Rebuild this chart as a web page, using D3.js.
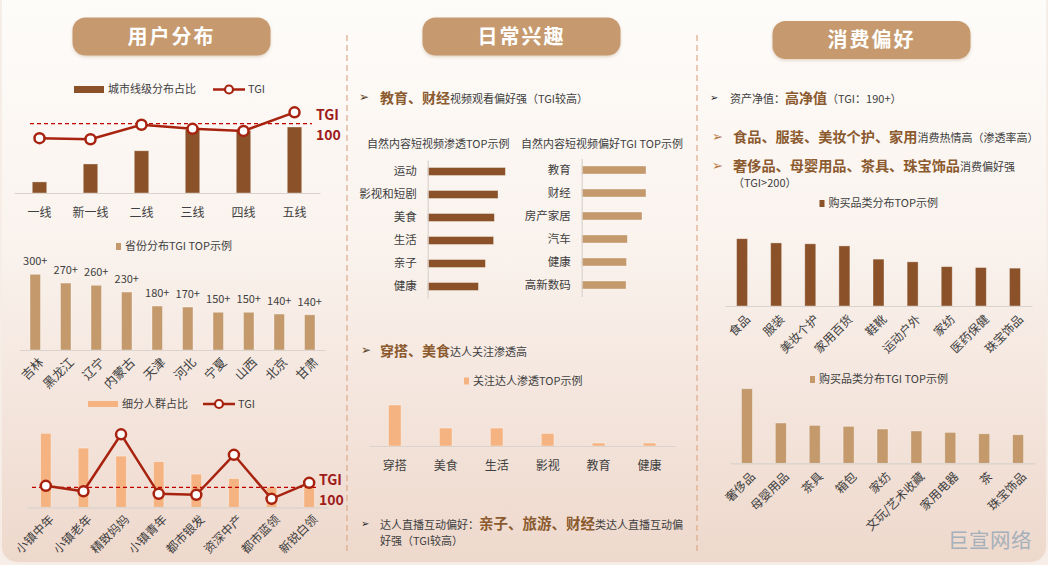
<!DOCTYPE html>
<html><head><meta charset="utf-8">
<script src="https://cdn.jsdelivr.net/npm/d3@7"></script>
<style>body{margin:0;background:#fff}svg{display:block}</style>
</head><body><svg id="c" width="1048" height="565"></svg>
<script>
// ---------- DATA ----------
const sectionTitles = ["用户分布","日常兴趣","消费偏好"];
const cityTiers = ["一线","新一线","二线","三线","四线","五线"];
const cityShare = [4.2, 11.0, 16.0, 24.0, 23.6, 25.0];
const cityTGI = [86, 85, 99, 95, 93, 111];
const provinces = ["吉林","黑龙江","辽宁","内蒙古","天津","河北","宁夏","山西","北京","甘肃"];
const provinceTGI = [303, 268, 259, 232, 176, 172, 151, 151, 144, 141];
const provinceLabels = ["300+","270+","260+","230+","180+","170+","150+","150+","140+","140+"];
const segments = ["小镇中年","小镇老年","精致妈妈","小镇青年","都市银发","资深中产","都市蓝领","新锐白领"];
const segmentShare = [18.5, 14.8, 12.8, 11.4, 8.3, 7.2, 5.0, 5.2];
const segmentTGI = [103, 92, 206, 87, 85, 165, 77, 109];
const videoPenCats = ["运动","影视和短剧","美食","生活","亲子","健康"];
const videoPenVals = [38.9, 35.2, 33.4, 33.0, 28.9, 25.4];
const videoTGICats = ["教育","财经","房产家居","汽车","健康","高新数码"];
const videoTGIVals = [145, 145, 136, 103, 101, 100];
const kolCats = ["穿搭","美食","生活","影视","教育","健康"];
const kolVals = [13.7, 6.0, 6.0, 4.2, 1.0, 1.0];
const buyCats = ["食品","服装","美妆个护","家用百货","鞋靴","运动户外","家纺","医药保健","珠宝饰品"];
const buyVals = [22.4, 21.0, 20.7, 20.0, 15.6, 14.7, 13.1, 12.8, 12.6];
const buyTGICats = ["奢侈品","母婴用品","茶具","箱包","家纺","文玩/艺术收藏","家用电器","茶","珠宝饰品"];
const buyTGIVals = [533, 288, 271, 264, 245, 231, 221, 211, 204];

// ---------- STYLE ----------
const FONT = '"Noto Sans CJK SC","Noto Sans",sans-serif';
const C_DARK = "#8b5229", C_TAN = "#c4996c", C_PEACH = "#f5b382";
const C_LINE = "#a8230f", C_DASH = "#c00000", C_TGI = "#9e1b1b";
const C_TEXT = "#404040", C_BOLD = "#8b5a2e";

const svg = d3.select("#c").attr("font-family", FONT);
const defs = svg.append("defs");
const gr = defs.append("linearGradient").attr("id","bg").attr("x1",0).attr("y1",0).attr("x2",0).attr("y2",1);
gr.append("stop").attr("offset","0%").attr("stop-color","#fefdfb");
gr.append("stop").attr("offset","45%").attr("stop-color","#faf3ee");
gr.append("stop").attr("offset","100%").attr("stop-color","#eed8cc");
const sh = defs.append("filter").attr("id","sh").attr("x","-10%").attr("y","-20%").attr("width","120%").attr("height","150%");
sh.append("feDropShadow").attr("dx",0).attr("dy",1.5).attr("stdDeviation",1.5).attr("flood-color","#8b5a2e").attr("flood-opacity",0.25);

svg.append("rect").attr("width",1048).attr("height",565).attr("fill","#f7eee9");
svg.append("rect").attr("x",1).attr("y",-30).attr("width",1046).attr("height",593).attr("rx",16)
  .attr("fill","url(#bg)").attr("stroke","#f7ede7").attr("stroke-width",2);

// dividers
[347, 697].forEach(x => svg.append("line").attr("x1",x).attr("x2",x).attr("y1",35).attr("y2",552)
  .attr("stroke","#dcaa8c").attr("stroke-width",1.2).attr("stroke-dasharray","6,4"));

// header pills
const pills = [{x:72.5,y:17.5},{x:422.5,y:17.5},{x:772.5,y:21}];
pills.forEach((p,i) => {
  svg.append("rect").attr("x",p.x).attr("y",p.y).attr("width",198).attr("height",38).attr("rx",13)
    .attr("fill","#c69a6e").attr("filter","url(#sh)");
  svg.append("text").attr("x",p.x+99).attr("y",p.y+19).attr("dy","0.36em").attr("text-anchor","middle")
    .attr("fill","#fff").attr("font-size",20).attr("font-weight","bold").attr("letter-spacing",2)
    .text(sectionTitles[i]);
});

// ---------- HELPERS ----------
function vbar(c){
  const g = svg.append("g");
  const x = d3.scaleBand().domain(c.cats).range([c.x0, c.x1]);
  const y = d3.scaleLinear().domain([0, d3.max(c.vals)]).range([c.base, c.base - c.maxH]);
  g.selectAll("rect").data(c.vals).join("rect")
    .attr("x",(d,i)=>x(c.cats[i]) + x.bandwidth()/2 - c.bw/2).attr("width", c.bw)
    .attr("y", d=>y(d)).attr("height", d=>c.base - y(d)).attr("fill", c.color)
    .attr("stroke","rgba(255,255,255,0.45)").attr("stroke-width",0.8);
  const ax = g.append("g").attr("transform",`translate(0,${c.base})`)
    .call(d3.axisBottom(x).tickSize(0).tickSizeOuter(0).tickPadding(c.pad || 15));
  ax.attr("font-family", FONT);
  ax.select(".domain").attr("stroke","#d9d2cd").attr("stroke-width",1.2);
  const t = ax.selectAll("text").attr("font-size", c.fs || 12).attr("fill", C_TEXT);
  if (c.rot) t.attr("y",0).attr("dy","0.35em").attr("text-anchor","end")
      .attr("transform",`translate(${c.rdx||5},${c.rdy||11}) rotate(-45)`);
  return {x, y, g};
}
function tgiLine(x, cats, vals, yS, dashY, dashX0, dashX1, labX, labY){
  svg.append("line").attr("x1",dashX0).attr("x2",dashX1).attr("y1",dashY).attr("y2",dashY)
    .attr("stroke",C_DASH).attr("stroke-width",1.3).attr("stroke-dasharray","4,3");
  const pts = vals.map((v,i)=>[x(cats[i]) + x.bandwidth()/2, yS(v)]);
  svg.append("path").attr("d", d3.line()(pts)).attr("fill","none").attr("stroke",C_LINE).attr("stroke-width",2.5);
  svg.selectAll(null).data(pts).join("circle").attr("cx",d=>d[0]).attr("cy",d=>d[1]).attr("r",5)
    .attr("fill","#fff").attr("stroke",C_LINE).attr("stroke-width",2.5);
  svg.append("text").attr("x",labX).attr("y",labY).attr("fill",C_TGI).attr("font-size",14).attr("font-weight","bold").text("TGI");
  svg.append("text").attr("x",labX).attr("y",labY+20).attr("fill",C_TGI).attr("font-size",14).attr("font-weight","bold").text("100");
}
function legendRect(x, y, w, h, color, label){
  svg.append("rect").attr("x",x).attr("y",y-h/2).attr("width",w).attr("height",h).attr("fill",color);
  svg.append("text").attr("x",x+w+4).attr("y",y).attr("dy","0.35em").attr("font-size",11).attr("fill",C_TEXT).text(label);
}
function legendLine(x, y, label){
  svg.append("line").attr("x1",x).attr("x2",x+32).attr("y1",y).attr("y2",y).attr("stroke",C_LINE).attr("stroke-width",2.5);
  svg.append("circle").attr("cx",x+16).attr("cy",y).attr("r",4).attr("fill","#fff").attr("stroke",C_LINE).attr("stroke-width",2.2);
  svg.append("text").attr("x",x+35).attr("y",y).attr("dy","0.35em").attr("font-size",11).attr("fill",C_TEXT).text(label);
}
function rich(x, y, parts){
  const t = svg.append("text").attr("x",x).attr("y",y).attr("dy","0.36em");
  parts.forEach(p => t.append("tspan").attr("font-size",p.s).attr("font-weight",p.b?"bold":"normal")
    .attr("fill",p.c || C_TEXT).text(p.t));
  return t;
}
function arrow(x, y, size, color){
  svg.append("text").attr("x",x).attr("y",y).attr("dy","0.36em").attr("font-size",size)
    .attr("font-family",'"DejaVu Sans",sans-serif').attr("fill",color).text("➢");
}
function hbar(c){
  const g = svg.append("g");
  const y = d3.scaleBand().domain(c.cats).range([c.y0, c.y1]);
  const x = d3.scaleLinear().domain([0, d3.max(c.vals)]).range([c.ax, c.ax + c.maxL]);
  g.selectAll("rect").data(c.vals).join("rect")
    .attr("x", c.ax).attr("y",(d,i)=>y(c.cats[i]) + y.bandwidth()/2 - 4).attr("height",8)
    .attr("width", d=>x(d) - c.ax).attr("fill", c.color)
    .attr("stroke","rgba(255,255,255,0.45)").attr("stroke-width",0.8);
  const a = g.append("g").attr("transform",`translate(${c.ax},0)`)
    .call(d3.axisLeft(y).tickSize(0).tickSizeOuter(0).tickPadding(11));
  a.attr("font-family", FONT);
  a.select(".domain").attr("stroke","#d9d2cd").attr("stroke-width",1.2);
  a.selectAll("text").attr("font-size",11.5).attr("fill",C_TEXT);
}

// ---------- LEFT: 用户分布 ----------
legendRect(74, 89.5, 30, 7, C_DARK, "城市线级分布占比");
legendLine(213, 89.5, "TGI");
const c1 = vbar({cats:cityTiers, vals:cityShare, x0:14, x1:320, base:193, maxH:66, bw:14.5, color:C_DARK, pad:15});
tgiLine(c1.x, cityTiers, cityTGI, d3.scaleLinear().domain([100,150]).range([123.7,72]), 123.7, 30, 312, 316, 120);

legendRect(116, 246.5, 5, 7, C_TAN, "省份分布TGI TOP示例");
const c2 = vbar({cats:provinces, vals:provinceTGI, x0:20, x1:325, base:350, maxH:75.7, bw:10.5, color:C_TAN, rot:true, fs:12.5, rdx:6, rdy:10});
c2.g.selectAll("text.vl").data(provinceTGI).join("text").attr("class","vl")
  .attr("x",(d,i)=>c2.x(provinces[i]) + c2.x.bandwidth()/2).attr("y",d=>c2.y(d) - 9)
  .attr("text-anchor","middle").attr("font-size",11).attr("fill",C_TEXT).text((d,i)=>provinceLabels[i]);

legendRect(88, 404, 30, 6, C_PEACH, "细分人群占比");
legendLine(203, 404, "TGI");
const c3 = vbar({cats:segments, vals:segmentShare, x0:27, x1:328, base:507.3, maxH:74, bw:10.5, color:C_PEACH, rot:true, fs:12, rdx:6, rdy:10});
tgiLine(c3.x, segments, segmentTGI, d3.scaleLinear().domain([100,200]).range([487.3,437.3]), 487.3, 32, 318, 319, 485);

// ---------- MIDDLE: 日常兴趣 ----------
arrow(359, 97, 12, "#5a3e26");
rich(380, 97, [{t:"教育、财经", s:14, b:true, c:C_BOLD},{t:"视频观看偏好强（TGI较高）", s:11}]);
svg.append("text").attr("x",367).attr("y",144.5).attr("dy","0.36em").attr("font-size",11).attr("fill",C_TEXT).text("自然内容短视频渗透TOP示例");
svg.append("text").attr("x",521).attr("y",144.5).attr("dy","0.36em").attr("font-size",11).attr("fill",C_TEXT).text("自然内容短视频偏好TGI TOP示例");
hbar({cats:videoPenCats, vals:videoPenVals, y0:160, y1:298, ax:427.7, maxL:77.7, color:C_DARK});
hbar({cats:videoTGICats, vals:videoTGIVals, y0:158.5, y1:296.5, ax:581.7, maxL:64.3, color:C_TAN});

arrow(361, 350, 12, "#5a3e26");
rich(380, 350, [{t:"穿搭、美食", s:14, b:true, c:C_BOLD},{t:"达人关注渗透高", s:11}]);
legendRect(464, 381, 5, 7, C_PEACH, "关注达人渗透TOP示例");
vbar({cats:kolCats, vals:kolVals, x0:369.3, x1:675, base:446, maxH:41, bw:12.7, color:C_PEACH, pad:15});

arrow(361, 523.5, 10, "#222");
rich(380, 523.5, [{t:"达人直播互动偏好：", s:11},{t:"亲子、旅游、财经", s:14.5, b:true, c:C_BOLD},{t:"类达人直播互动偏", s:11}]);
rich(380, 539, [{t:"好强（TGI较高）", s:11}]);

// ---------- RIGHT: 消费偏好 ----------
arrow(710, 97.5, 10, "#222");
rich(730, 97.5, [{t:"资产净值：", s:11},{t:"高净值", s:14, b:true, c:C_BOLD},{t:"（TGI：190+）", s:11}]);
arrow(712, 136.5, 13, "#b5763e");
rich(733, 136.5, [{t:"食品、服装、美妆个护、家用", s:14.2, b:true, c:C_BOLD},{t:"消费热情高（渗透率高）", s:11}]);
arrow(712, 165.5, 13, "#b5763e");
rich(733, 165.5, [{t:"奢侈品、母婴用品、茶具、珠宝饰品", s:14.2, b:true, c:C_BOLD},{t:"消费偏好强", s:11}]);
rich(733, 181.5, [{t:"（TGI>200）", s:11}]);

legendRect(819.5, 203.5, 5, 7, C_DARK, "购买品类分布TOP示例");
vbar({cats:buyCats, vals:buyVals, x0:725, x1:1032, base:306, maxH:67.3, bw:11, color:C_DARK, rot:true, fs:12, rdx:6, rdy:11});

legendRect(810, 379.5, 5, 7, C_TAN, "购买品类分布TGI TOP示例");
vbar({cats:buyTGICats, vals:buyTGIVals, x0:730, x1:1035, base:463.3, maxH:74.6, bw:11, color:C_TAN, rot:true, fs:12, rdx:6, rdy:11});

// watermark
svg.append("text").attr("x",948).attr("y",541).attr("dy","0.36em").attr("font-size",20.5)
  .attr("fill","#a5b0ba").attr("letter-spacing",0.5).text("巨宣网络");
</script></body></html>
